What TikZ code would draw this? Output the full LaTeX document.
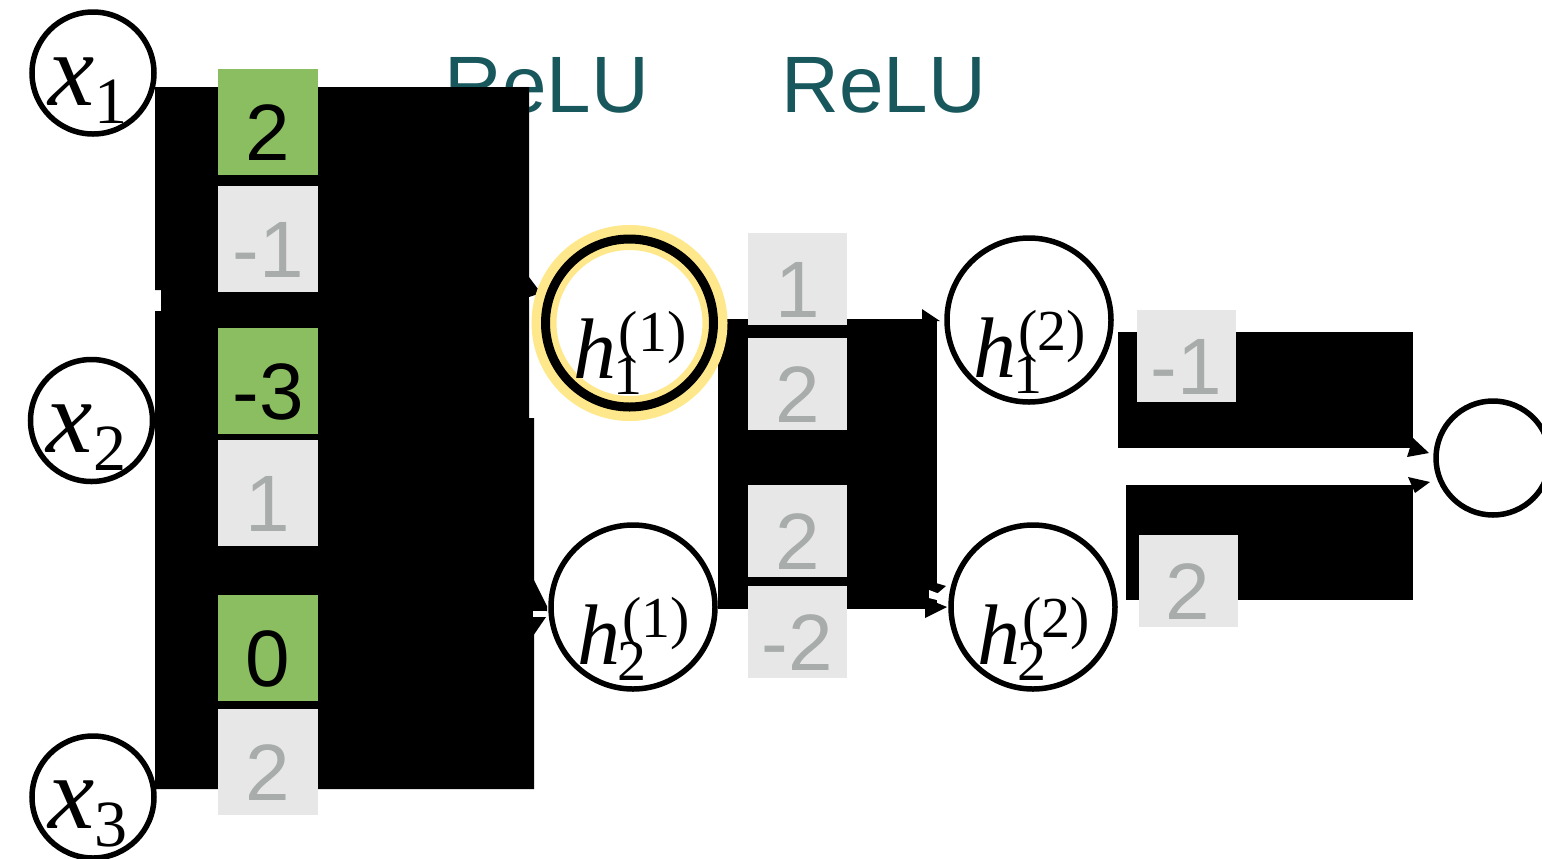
\documentclass[tikz,border=0pt]{standalone}
\usepackage{fontspec}
\newfontfamily\sansfnt{Liberation Sans}
\newfontfamily\seriffnt{Liberation Serif}
\definecolor{wgreen}{RGB}{139,190,96}
\definecolor{wgrey}{RGB}{231,231,231}
\definecolor{wgreytext}{RGB}{168,172,170}
\definecolor{reluteal}{RGB}{24,87,92}
\definecolor{halocol}{RGB}{255,232,140}
% weight digits sit a little below the box centre
\newcommand\numtext[1]{\raisebox{-5.5pt}[\height][0pt]{#1}}
\newcommand\xlab[1]{{\fontsize{52}{52}\selectfont\seriffnt\itshape x}\raisebox{-9pt}{\fontsize{33}{33}\selectfont\seriffnt #1}}
\newcommand\hlab[2]{{\fontsize{43}{43}\selectfont\seriffnt\itshape h}\kern-1.5pt\rlap{\raisebox{-8pt}{\fontsize{29}{29}\selectfont\seriffnt #1}}\kern2.5pt\raisebox{13.5pt}{\fontsize{29}{29}\selectfont\seriffnt (#2)}}
\begin{document}
\begin{tikzpicture}[x=0.5pt,y=-0.5pt,
  neuron/.style={circle, draw=black, fill=white, line width=2.75pt, inner sep=0pt},
  xnode/.style={neuron, minimum size=61pt},
  hnode/.style={neuron, minimum size=82pt},
  lab/.style={anchor=base west, inner sep=0pt},
  relu/.style={anchor=base west, inner sep=0pt, text=reluteal, font=\sansfnt\fontsize{40}{40}\selectfont},
  wbox/.style={rectangle, inner sep=0pt, minimum width=50pt, minimum height=53pt, font=\sansfnt\fontsize{40}{40}\selectfont},
  shortbox/.style={minimum width=49.5pt, minimum height=46pt},
  posw/.style={wbox, fill=wgreen, text=black},
  negw/.style={wbox, fill=wgrey, text=wgreytext},
  cable/.style={fill=black},
  gap/.style={fill=white},
]
\useasboundingbox (0,0) rectangle (1542,858);

% layer titles
\node[relu] (relu1) at (444,112) {ReLU};
\node[relu] (relu2) at (781,112) {ReLU};

% connector bundles, input -> first hidden layer
\fill[cable] (155,87) -- (529,87) -- (529,418) -- (534,418) -- (534,789) -- (155,789)
  -- (155,311) -- (161,311) -- (161,290) -- (155,290) -- cycle;
\fill[cable] (529,277) -- (541,293) -- (529,297) -- cycle;
\fill[gap] (529,297) rectangle (536,300);
\fill[cable] (533,578) -- (547,606) -- (547,611) -- (533,611) -- cycle;
\fill[cable] (533,617) -- (546,617) -- (533,636) -- cycle;
\fill[gap] (533,611) rectangle (546,617);

% first hidden -> second hidden layer
\fill[cable] (718,319) rectangle (937,609);
\fill[cable] (922,309) -- (940,321) -- (922,321) -- cycle;
\fill[cable] (926,580) -- (946,586) -- (932,598) -- cycle;
\fill[gap] (929,590) -- (945,596) -- (945,602) -- (929,598) -- cycle;
\fill[cable] (925,598) -- (947,607) -- (925,618) -- cycle;

% second hidden -> output
\fill[cable] (1118,332) rectangle (1413,448);
\fill[cable] (1126,485) rectangle (1413,600);
\fill[cable] (1413,438) -- (1429,453) -- (1407,457) -- cycle;
\fill[cable] (1408,477) -- (1430,482) -- (1415,493) -- cycle;

% weights, first layer
\node[posw] (w11) at (268,122) {\numtext{2}};
\node[negw] (w12) at (268,238.5) {\numtext{-1}};
\node[posw] (w21) at (268,381) {\numtext{-3}};
\node[negw] (w22) at (268,492.5) {\numtext{1}};
\node[posw] (w31) at (268,648) {\numtext{0}};
\node[negw] (w32) at (268,761.5) {\numtext{2}};

% weights, second layer
\node[negw, shortbox] (v11) at (797.5,279) {\numtext{1}};
\node[negw, shortbox] (v12) at (797.5,383.5) {\numtext{2}};
\node[negw, shortbox] (v21) at (797.5,530.5) {\numtext{2}};
\node[negw, shortbox] (v22) at (797.5,632) {\numtext{-2}};

% weights, output layer
\node[negw, shortbox] (u1) at (1186.5,356) {\numtext{-1}};
\node[negw, shortbox] (u2) at (1188,581) {\numtext{2}};

% inputs
\node[xnode] (x1) at (93,73) {};
\node[xnode] (x2) at (91.5,420.5) {};
\node[xnode] (x3) at (93,797) {};
\node[lab] at ([shift={(-45,32)}]x1.center) {\xlab{1}};
\node[lab] at ([shift={(-45,32)}]x2.center) {\xlab{2}};
\node[lab] at ([shift={(-45,31)}]x3.center) {\xlab{3}};

% hidden units; the first one is highlighted
\coordinate (c11) at (629.5,323);
\fill[white] (c11) circle[radius=84];
\draw[halocol, line width=12.5pt] (c11) circle[radius=85.5];
\node[hnode, fill=none, minimum size=84pt, line width=4.5pt] (h11) at (c11) {};
\node[hnode] (h21) at (633,607) {};
\node[hnode] (h12) at (1029,320) {};
\node[hnode] (h22) at (1033,607) {};
\node[lab] at ([shift={(-56,55)}]h11.center) {\hlab{1}{1}};
\node[lab] at ([shift={(-56,57)}]h21.center) {\hlab{2}{1}};
\node[lab] at ([shift={(-56,57)}]h12.center) {\hlab{1}{2}};
\node[lab] at ([shift={(-56,57)}]h22.center) {\hlab{2}{2}};

% output unit
\node[neuron, minimum size=57pt] (out) at (1493,458) {};
\end{tikzpicture}
\end{document}
